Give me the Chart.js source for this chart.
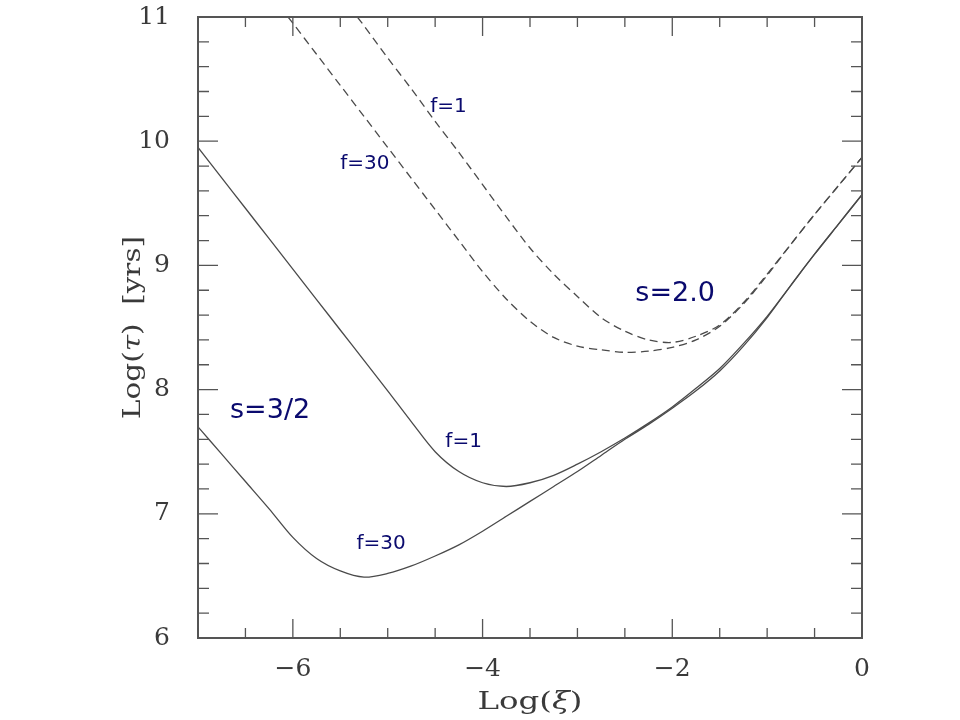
<!DOCTYPE html>
<html>
<head>
<meta charset="utf-8">
<style>
  html, body { margin: 0; background: #fff; }
  #wrap { width: 960px; height: 720px; }
</style>
<script src="https://cdn.jsdelivr.net/npm/chart.js@4.4.1/dist/chart.umd.min.js"></script>
</head>
<body>
<div id="wrap"><canvas id="chart" width="960" height="720"></canvas></div>
<script>
// Daten
const xTickValues = [-6, -4, -2, 0];
const yTickValues = [6, 7, 8, 9, 10, 11];

// gemeinsames x-Raster der durchgezogenen Kurven, Log(xi)
const xSolid = [-7, -6.75, -6.5, -6.25, -6, -5.75, -5.5, -5.25, -5, -4.75, -4.5, -4.25, -4, -3.75,
                -3.5, -3.25, -3, -2.75, -2.5, -2.25, -2, -1.75, -1.5, -1.25, -1, -0.75, -0.5, -0.25, 0];

// s = 3/2, f = 1
const ySolidF1 = [9.950, 9.705, 9.460, 9.215, 8.970, 8.725, 8.480, 8.235, 7.990, 7.740, 7.500, 7.340, 7.250, 7.220,
                  7.250, 7.310, 7.400, 7.500, 7.610, 7.730, 7.860, 8.010, 8.170, 8.370, 8.590, 8.840, 9.090, 9.330, 9.570];

// s = 3/2, f = 30
const ySolidF30 = [7.70, 7.48, 7.26, 7.04, 6.81, 6.64, 6.54, 6.49, 6.52, 6.58, 6.66, 6.75, 6.86, 6.98,
                   7.10, 7.22, 7.34, 7.47, 7.60, 7.72, 7.85, 7.99, 8.15, 8.35, 8.58, 8.84, 9.09, 9.33, 9.57];

// s = 2.0, f = 1 (gestrichelt)
const xDashF1 = [-5.32, -5.25, -5, -4.75, -4.5, -4.25, -4, -3.75, -3.5, -3.25, -3, -2.75, -2.5, -2.25,
                 -2, -1.75, -1.5, -1.25, -1, -0.75, -0.5, -0.25, 0];
const yDashF1 = [11.0, 10.93, 10.67, 10.42, 10.16, 9.91, 9.65, 9.39, 9.14, 8.93, 8.75, 8.58, 8.47, 8.40,
                 8.38, 8.43, 8.52, 8.70, 8.93, 9.17, 9.41, 9.64, 9.87];

// s = 2.0, f = 30 (gestrichelt)
const xDashF30 = [-6.05, -6, -5.75, -5.5, -5.25, -5, -4.75, -4.5, -4.25, -4, -3.75, -3.5, -3.25, -3,
                  -2.75, -2.5, -2.25, -2, -1.75, -1.5, -1.25, -1, -0.75, -0.5, -0.25, 0];
const yDashF30 = [11.0, 10.95, 10.70, 10.45, 10.20, 9.95, 9.70, 9.45, 9.20, 8.95, 8.73, 8.55, 8.42, 8.35,
                  8.32, 8.30, 8.31, 8.34, 8.40, 8.51, 8.69, 8.92, 9.17, 9.41, 9.64, 9.87];

// Beschriftungen im Diagramm
const noteTexts = ['f=1', 'f=30', 's=2.0', 's=3/2', 'f=1', 'f=30'];
const noteX = [-4.36, -5.24, -1.97, -6.24, -4.20, -5.07];
const noteY = [10.28, 9.82, 8.77, 7.83, 7.58, 6.76];
const noteBig = [false, false, true, true, false, false];

function toPoints(xs, ys) {
    return xs.map((x, i) => ({ x: x, y: ys[i] }));
}

const lineColor = '#4a4a4a';
const axisColor = '#555';
const serif = '"DejaVu Serif", "Liberation Serif", serif';

// Rahmen, Ticks nach innen, Achsentitel und Texte
const framePlugin = {
    id: 'frame',
    afterDraw(chart) {
        const ctx = chart.ctx;
        const xs = chart.scales.x;
        const ys = chart.scales.y;
        const a = chart.chartArea;

        ctx.save();
        ctx.strokeStyle = axisColor;
        ctx.lineWidth = 2;
        ctx.strokeRect(a.left, a.top, a.right - a.left, a.bottom - a.top);

        ctx.lineWidth = 1.3;
        ctx.beginPath();
        // x ticks (unten und oben)
        for (let v = -7; v <= 0.001; v += 0.5) {
            const px = xs.getPixelForValue(v);
            const len = (Math.abs(v % 2) < 0.001) ? 19 : 10;
            ctx.moveTo(px, a.bottom); ctx.lineTo(px, a.bottom - len);
            ctx.moveTo(px, a.top); ctx.lineTo(px, a.top + len);
        }
        // y ticks (links und rechts)
        for (let k = 0; k <= 25; k++) {
            const v = 6 + k * 0.2;
            const py = ys.getPixelForValue(v);
            const len = (k % 5 === 0) ? 20 : 11;
            ctx.moveTo(a.left, py); ctx.lineTo(a.left + len, py);
            ctx.moveTo(a.right, py); ctx.lineTo(a.right - len, py);
        }
        ctx.stroke();

        // Achsentitel (in der Vorlage breit gezogen)
        ctx.fillStyle = '#3a3a3a';
        ctx.textBaseline = 'middle';
        drawRuns(ctx, [['Log(', false], ['\u03be', true], [')', false]], (a.left + a.right) / 2, 702, 0, 105);
        drawRuns(ctx, [['Log(', false], ['\u03c4', true], [')  [yrs]', false]], 133, (a.top + a.bottom) / 2, -Math.PI / 2, 183);

        // Beschriftungen
        ctx.fillStyle = '#0a0a6e';
        ctx.textAlign = 'center';
        noteTexts.forEach((t, i) => {
            ctx.font = noteBig[i] ? '27px "DejaVu Sans", sans-serif' : '20px "DejaVu Sans", sans-serif';
            ctx.fillText(t, xs.getPixelForValue(noteX[i]), ys.getPixelForValue(noteY[i]));
        });
        ctx.restore();
    }
};

// Text aus mehreren Stücken (normal / kursiv), zentriert, auf Zielbreite gestreckt
function drawRuns(ctx, runs, cx, cy, angle, targetWidth) {
    const fonts = runs.map(r => (r[1] ? 'italic ' : '') + '25px ' + serif);
    let total = 0;
    const widths = runs.map((r, i) => { ctx.font = fonts[i]; const w = ctx.measureText(r[0]).width; total += w; return w; });
    ctx.save();
    ctx.translate(cx, cy);
    ctx.rotate(angle);
    ctx.scale(targetWidth / total, 1);
    ctx.textAlign = 'left';
    let x = -total / 2;
    runs.forEach((r, i) => {
        ctx.font = fonts[i];
        ctx.fillText(r[0], x, 0);
        x += widths[i];
    });
    ctx.restore();
}

const baseLine = {
    showLine: true,
    pointRadius: 0,
    borderColor: lineColor,
    borderWidth: 1.3,
    tension: 0.3,
    fill: false
};

// Achsen-Innenabstände für Randbeschriftungen abschalten
function noPadding(scale) {
    scale.paddingTop = 0;
    scale.paddingBottom = 0;
    scale.paddingLeft = 0;
    scale.paddingRight = 0;
}

new Chart(document.getElementById('chart'), {
    type: 'scatter',
    data: {
        datasets: [
            Object.assign({ label: 's=3/2 f=1', data: toPoints(xSolid, ySolidF1) }, baseLine),
            Object.assign({ label: 's=3/2 f=30', data: toPoints(xSolid, ySolidF30) }, baseLine),
            Object.assign({ label: 's=2.0 f=1', data: toPoints(xDashF1, yDashF1), borderDash: [8, 5] }, baseLine),
            Object.assign({ label: 's=2.0 f=30', data: toPoints(xDashF30, yDashF30), borderDash: [8, 5] }, baseLine)
        ]
    },
    options: {
        responsive: false,
        animation: false,
        layout: { padding: { top: 17, right: 98, left: 0, bottom: 0 } },
        plugins: {
            legend: { display: false },
            tooltip: { enabled: false }
        },
        scales: {
            x: {
                type: 'linear',
                min: -7,
                max: 0,
                grid: { display: false },
                border: { display: false },
                afterBuildTicks: (scale) => { scale.ticks = xTickValues.map(v => ({ value: v })); },
                afterFit: (scale) => { scale.height = 82; noPadding(scale); },
                ticks: {
                    padding: 8,
                    color: '#3a3a3a',
                    font: { family: serif, size: 25 },
                    maxRotation: 0,
                    callback: (v) => (v < 0 ? '\u2212' + Math.abs(v) : String(v))
                }
            },
            y: {
                type: 'linear',
                min: 6,
                max: 11,
                grid: { display: false },
                border: { display: false },
                afterBuildTicks: (scale) => { scale.ticks = yTickValues.map(v => ({ value: v })); },
                afterFit: (scale) => { scale.width = 198; noPadding(scale); },
                ticks: {
                    padding: 20,
                    color: '#3a3a3a',
                    font: { family: serif, size: 25 }
                }
            }
        }
    },
    plugins: [framePlugin]
});
</script>
</body>
</html>
